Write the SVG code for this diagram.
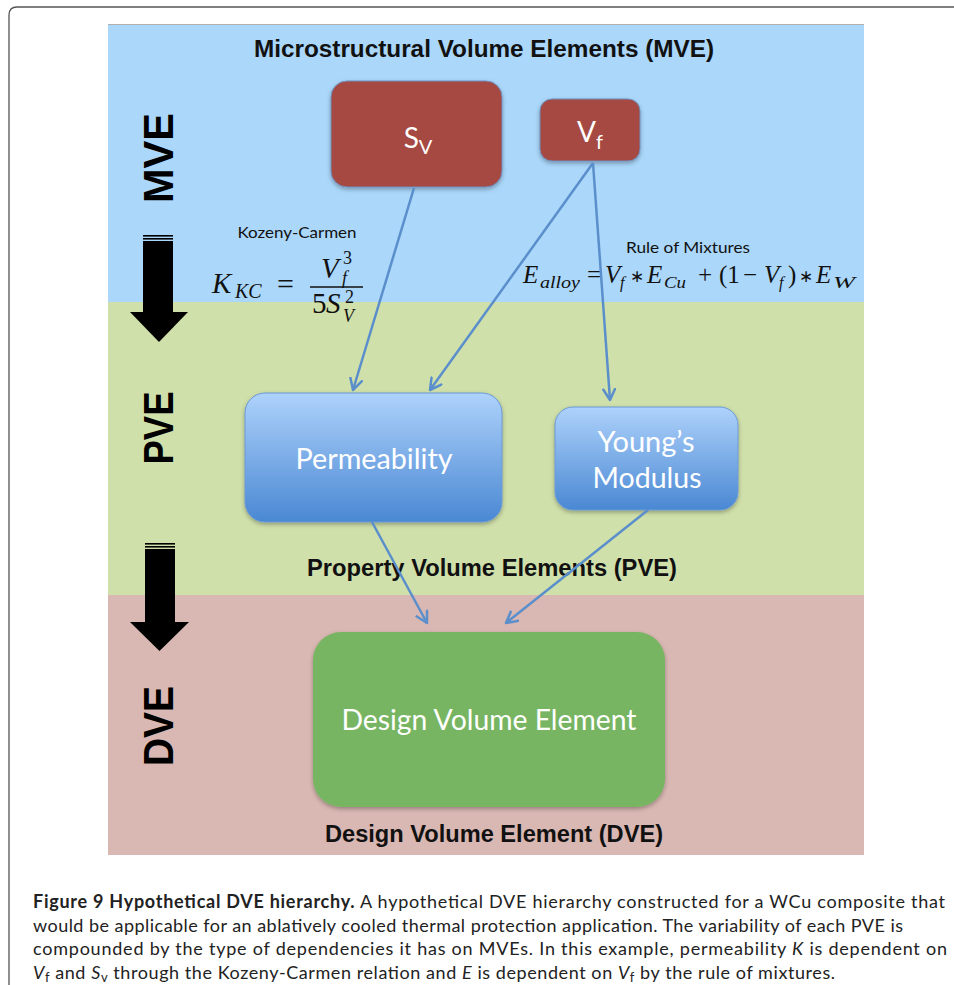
<svg xmlns="http://www.w3.org/2000/svg" width="954" height="985" viewBox="0 0 954 985">
<defs>
<style>
.title{font-family:"Liberation Sans",Arial,sans-serif;font-weight:bold;font-size:23px;fill:#111;text-anchor:middle}
.side{font-family:"Liberation Sans",Arial,sans-serif;font-weight:bold;font-size:42px;fill:#000;text-anchor:middle}
.node{font-family:Lato,"Open Sans",sans-serif;fill:#fff;text-anchor:middle}
.lbl{font-family:Lato,"Open Sans",sans-serif;font-size:16px;fill:#111;text-anchor:middle}
.math{font-family:"Liberation Serif","Times New Roman",serif;fill:#111}
.it{font-style:italic}
.conn{stroke:#5b8fcc;stroke-width:2.5;fill:none;marker-end:url(#ah)}
.cap{font-family:Lato,"Open Sans",sans-serif;font-size:18px;fill:#222}
.blk{fill:#000}
</style>
<marker id="ah" markerUnits="userSpaceOnUse" markerWidth="14" markerHeight="14" refX="12" refY="7" orient="auto" viewBox="0 0 14 14">
<path d="M1,1 L12,7 L1,13" fill="none" stroke="#5b8fcc" stroke-width="2.5" stroke-linecap="round" stroke-linejoin="round"/>
</marker>
<linearGradient id="gb" x1="0" y1="0" x2="0" y2="1">
<stop offset="0" stop-color="#aed2fb"/>
<stop offset="1" stop-color="#4a88d3"/>
</linearGradient>
<filter id="sh" x="-10%" y="-10%" width="120%" height="130%">
<feDropShadow dx="0" dy="2" stdDeviation="2" flood-color="#000" flood-opacity="0.3"/>
</filter>
</defs>

<path d="M9,985 L9,15 Q9,7 17,7 L954,7" fill="none" stroke="#555" stroke-width="1.3"/>

<g id="panel">
<rect x="108" y="24" width="756" height="278" fill="#aad7fa"/>
<rect x="108" y="302" width="756" height="293" fill="#d0e0aa"/>
<rect x="108" y="595" width="756" height="260" fill="#d9b7b2"/>
<line x1="108" y1="24.5" x2="864" y2="24.5" stroke="#b0b0b0" stroke-width="1"/>
</g>

<g id="titles">
<text class="title" x="484" y="57" textLength="460" lengthAdjust="spacingAndGlyphs">Microstructural Volume Elements (MVE)</text>
<text class="title" x="492" y="576" textLength="370" lengthAdjust="spacingAndGlyphs">Property Volume Elements (PVE)</text>
<text class="title" x="494" y="842" textLength="338" lengthAdjust="spacingAndGlyphs">Design Volume Element (DVE)</text>
</g>

<g id="side-labels">
<text class="side" transform="translate(173,158) rotate(-90)" textLength="90" lengthAdjust="spacingAndGlyphs">MVE</text>
<text class="side" transform="translate(173,428) rotate(-90)" textLength="73" lengthAdjust="spacingAndGlyphs">PVE</text>
<text class="side" transform="translate(173,726) rotate(-90)" textLength="80" lengthAdjust="spacingAndGlyphs">DVE</text>
</g>

<g id="big-arrow-1">
<rect class="blk" x="143" y="235" width="30" height="1.6"/>
<rect class="blk" x="143" y="238" width="30" height="1.6"/>
<rect class="blk" x="143" y="241" width="30" height="72"/>
<polygon class="blk" points="130,312 188,312 159,342"/>
</g>
<g id="big-arrow-2">
<rect class="blk" x="145" y="543" width="30" height="1.6"/>
<rect class="blk" x="145" y="546" width="30" height="1.6"/>
<rect class="blk" x="145" y="549" width="30" height="74"/>
<polygon class="blk" points="130,622 189,622 159.5,651"/>
</g>

<g id="formula-kc">
<text class="lbl" x="297" y="238" textLength="119" lengthAdjust="spacingAndGlyphs">Kozeny-Carmen</text>
<text class="math" font-size="29"><tspan class="it" x="212" y="293">K</tspan><tspan class="it" font-size="20" x="235" y="298">KC</tspan><tspan font-size="30" x="277" y="294">=</tspan><tspan class="it" x="321" y="278">V</tspan><tspan font-size="18" x="343" y="264">3</tspan><tspan class="it" font-size="18" x="342" y="284">f</tspan><tspan x="312" y="313">5</tspan><tspan class="it" x="326" y="313">S</tspan><tspan font-size="18" x="345" y="303">2</tspan><tspan class="it" font-size="18" x="343" y="322">V</tspan></text>
<line x1="310" y1="287" x2="363" y2="287" stroke="#111" stroke-width="1.3"/>
</g>

<g id="formula-rom">
<text class="lbl" x="688" y="253" textLength="124" lengthAdjust="spacingAndGlyphs">Rule of Mixtures</text>
<text class="math" font-size="25"><tspan class="it" x="523" y="283">E</tspan><tspan class="it" font-size="16" x="540" y="288" textLength="40" lengthAdjust="spacingAndGlyphs">alloy</tspan><tspan x="587" y="283">=</tspan><tspan class="it" x="605" y="283">V</tspan><tspan class="it" font-size="16" x="620" y="288">f</tspan><tspan font-size="17" x="630" y="282">∗</tspan><tspan class="it" x="647" y="283">E</tspan><tspan class="it" font-size="16" x="664" y="288" textLength="22" lengthAdjust="spacingAndGlyphs">Cu</tspan><tspan x="698" y="283">+</tspan><tspan x="719" y="283">(1</tspan><tspan x="743" y="283">−</tspan><tspan class="it" x="764" y="283">V</tspan><tspan class="it" font-size="16" x="779" y="288">f</tspan><tspan x="788" y="283">)</tspan><tspan font-size="17" x="799" y="282">∗</tspan><tspan class="it" x="816" y="283">E</tspan><tspan class="it" font-size="16" x="833" y="288" textLength="22" lengthAdjust="spacingAndGlyphs">W</tspan></text>
</g>

<g id="node-sv">
<rect x="331" y="81" width="171" height="106" rx="16" fill="#a54a42" stroke="#6f8fbf" stroke-width="1" filter="url(#sh)"/>
<text class="node" x="418" y="148" font-size="28">S<tspan font-size="20" dy="6">V</tspan></text>
</g>
<g id="node-vf">
<rect x="540" y="99" width="100" height="62" rx="12" fill="#a54a42" stroke="#6f8fbf" stroke-width="1" filter="url(#sh)"/>
<text class="node" x="590" y="142" font-size="28">V<tspan font-size="20" dy="7">f</tspan></text>
</g>
<g id="node-permeability">
<rect x="245" y="393" width="257" height="129" rx="20" fill="url(#gb)" stroke="#6a9ad4" stroke-width="1" filter="url(#sh)"/>
<text class="node" x="374" y="469" font-size="28" textLength="157" lengthAdjust="spacingAndGlyphs">Permeability</text>
</g>
<g id="node-youngs">
<rect x="555" y="407" width="183" height="103" rx="18" fill="url(#gb)" stroke="#6a9ad4" stroke-width="1" filter="url(#sh)"/>
<text class="node" x="646" y="452" font-size="28" textLength="97" lengthAdjust="spacingAndGlyphs">Young’s</text>
<text class="node" x="647" y="488" font-size="28" textLength="109" lengthAdjust="spacingAndGlyphs">Modulus</text>
</g>
<g id="node-dve">
<rect x="313" y="632" width="352" height="175" rx="28" fill="#77b562" filter="url(#sh)"/>
<text class="node" x="489" y="730" font-size="28" textLength="295" lengthAdjust="spacingAndGlyphs">Design Volume Element</text>
</g>

<g id="connectors">
<line class="conn" x1="414" y1="188" x2="353" y2="390"/>
<line class="conn" x1="593" y1="163" x2="430" y2="390"/>
<line class="conn" x1="593" y1="163" x2="610" y2="400"/>
<line class="conn" x1="372" y1="522" x2="427" y2="623"/>
<line class="conn" x1="648" y1="510" x2="506" y2="623"/>
</g>

<g id="caption">
<text class="cap" x="33" y="908" textLength="912" lengthAdjust="spacing"><tspan font-weight="bold">Figure 9 Hypothetical DVE hierarchy.</tspan> A hypothetical DVE hierarchy constructed for a WCu composite that</text>
<text class="cap" x="33" y="931.5" textLength="870" lengthAdjust="spacing">would be applicable for an ablatively cooled thermal protection application. The variability of each PVE is</text>
<text class="cap" x="33" y="955" textLength="914" lengthAdjust="spacing">compounded by the type of dependencies it has on MVEs. In this example, permeability <tspan font-style="italic">K</tspan> is dependent on</text>
<text class="cap" x="33" y="978.5" textLength="802" lengthAdjust="spacing"><tspan font-style="italic">V</tspan><tspan font-size="13" dy="3">f</tspan><tspan dy="-3"> and </tspan><tspan font-style="italic">S</tspan><tspan font-size="13" dy="3">v</tspan><tspan dy="-3"> through the Kozeny-Carmen relation and </tspan><tspan font-style="italic">E</tspan> is dependent on <tspan font-style="italic">V</tspan><tspan font-size="13" dy="3">f</tspan><tspan dy="-3"> by the rule of mixtures.</tspan></text>
</g>
</svg>
